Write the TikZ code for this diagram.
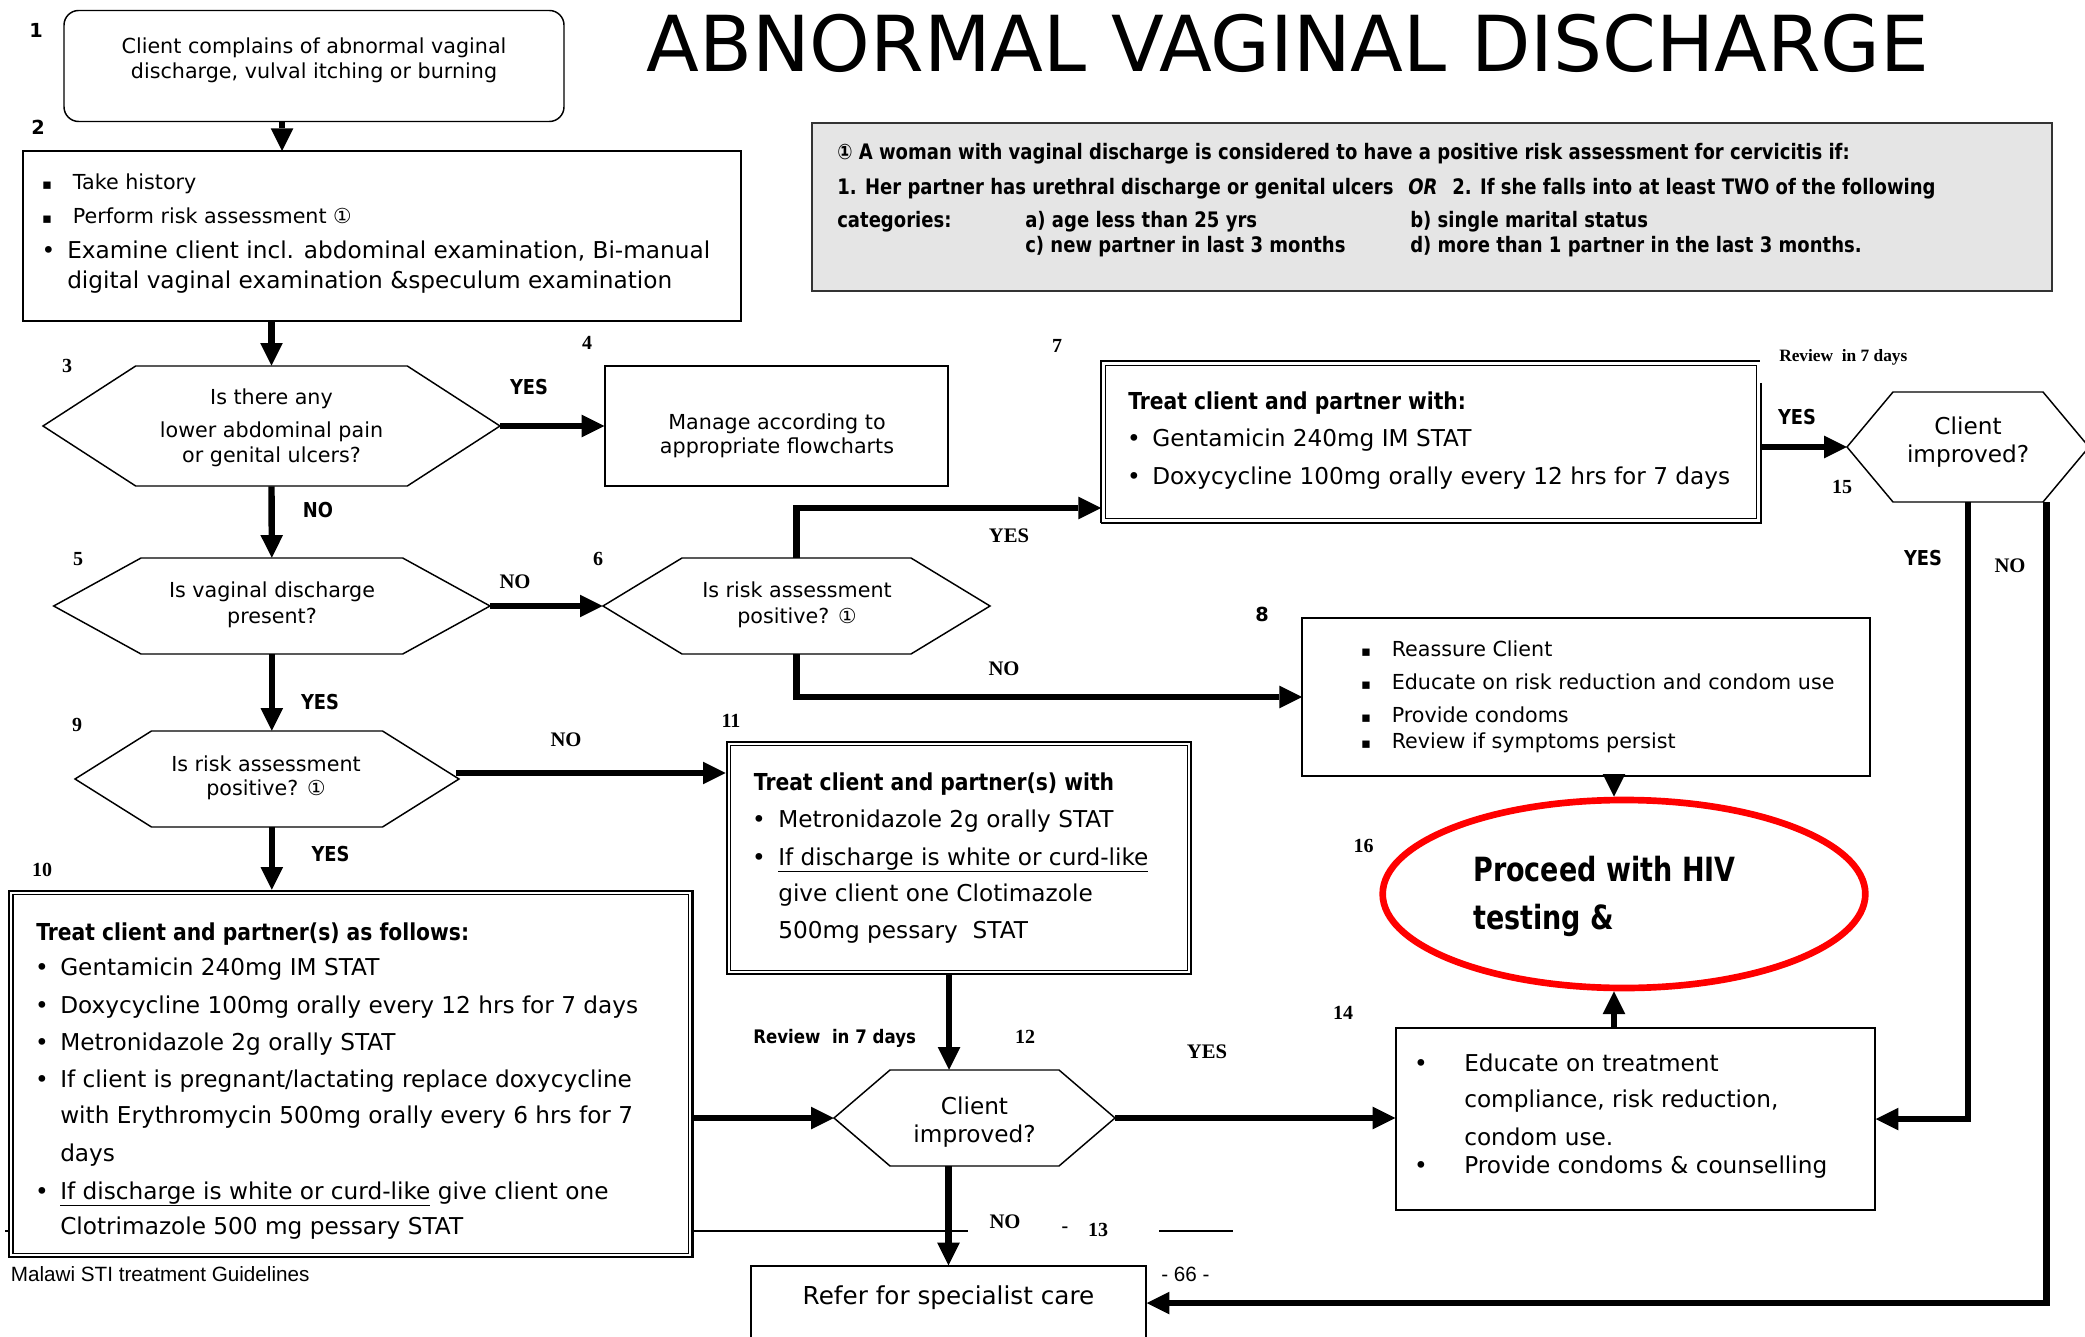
\documentclass[tikz,border=0pt]{standalone}
\usepackage{fontspec}
\usepackage{graphicx}
\setmainfont{DejaVu Sans}
\newfontfamily\tnr{Liberation Serif}
\newfontfamily\arialf{Liberation Sans}
\usetikzlibrary{arrows.meta,shapes.geometric}
\newcommand\hexdraw[6]{%
  \draw[hexline] (#2-#4,#3) -- (#2-#4+#6,#3-#5) -- (#2+#4-#6,#3-#5) -- (#2+#4,#3) -- (#2+#4-#6,#3+#5) -- (#2-#4+#6,#3+#5) -- cycle;
  \node[inner sep=0pt, minimum width={#4*1.5pt}, minimum height={#5*1.5pt}] (#1) at (#2,#3) {};}
\newcommand\boxat[6]{%
  \node[#6, inner sep=0pt, minimum width={(#4-#2)*0.75pt}, minimum height={(#5-#3)*0.75pt}] (#1) at ({(#2+#4)/2},{(#3+#5)/2}) {};}
\newcommand\dblin[1]{%
  \draw[line width=1.1pt] ([shift={(3.75pt,-3.75pt)}]#1.north west) rectangle ([shift={(-3.75pt,3.75pt)}]#1.south east);}
\newcommand\nb[2]{\scalebox{#1}[1]{#2}}
\newcommand\sqb{{\fontsize{11}{12}\selectfont ▪}}
\begin{document}
\begin{tikzpicture}[x=0.75pt,y=-0.75pt,
  arr/.style={line width=4.8pt,-{Triangle[length=17pt,width=17pt,line width=0pt]}},
  hexline/.style={line width=1.1pt, line join=miter},
  boxline/.style={draw, line width=1.1pt, fill=white},
  dblbox/.style={draw, line width=1.9pt, fill=white},
  txt/.style={inner sep=0pt, anchor=base west},
  ctxt/.style={inner sep=0pt, anchor=base},
  fs/.style={font=\fontsize{15.5}{18}\selectfont},
  fb/.style={font=\fontsize{17.4}{20}\selectfont},
  fbold/.style={font=\bfseries\fontsize{17.5}{20}\selectfont},
  fi/.style={font=\bfseries\fontsize{16}{18}\selectfont},
  numser/.style={inner sep=0pt, font=\tnr\bfseries\fontsize{15}{17}\selectfont},
  numsan/.style={inner sep=0pt, font=\bfseries\fontsize{14.5}{17}\selectfont},
  labsan/.style={inner sep=0pt, font=\bfseries\fontsize{15.4}{17}\selectfont},
  labser/.style={inner sep=0pt, font=\tnr\bfseries\fontsize{15.5}{17}\selectfont}]
\useasboundingbox (0,0) rectangle (2085,1337);
\fill[white] (0,0) rectangle (2085,1337);
\clip (0,0) rectangle (2085,1337);

% ---------- title ----------
\node[txt, font=\fontsize{57.9}{60}\selectfont] (title) at (646,71.7) {ABNORMAL VAGINAL DISCHARGE};

% ---------- info box ----------
\boxat{info}{812}{123}{2052}{291}{draw=black!80, fill=black!10, line width=1pt}
\node[txt, fi] (i1) at (837,160) {\nb{0.845}{① A woman with vaginal discharge is considered to have a positive risk assessment for cervicitis if:}};
\node[txt, fi] (i2a) at (837,195) {\nb{0.845}{1. Her partner has urethral discharge or genital ulcers}};
\node[txt, fi] (i2b) at (1408,195) {\nb{0.845}{\itshape OR}};
\node[txt, fi] (i2c) at (1452,195) {\nb{0.845}{2. If she falls into at least TWO of the following}};
\node[txt, fi] (i3a) at (837,228) {\nb{0.845}{categories:}};
\node[txt, fi] (i3b) at (1025,228) {\nb{0.845}{a) age less than 25 yrs}};
\node[txt, fi] (i3c) at (1410,228) {\nb{0.845}{b) single marital status}};
\node[txt, fi] (i4b) at (1025,253) {\nb{0.845}{c) new partner in last 3 months}};
\node[txt, fi] (i4c) at (1410,253) {\nb{0.845}{d) more than 1 partner in the last 3 months.}};

% ---------- boxes ----------
\boxat{b1}{64}{10.5}{564}{121.5}{boxline, rounded corners=11pt}
\boxat{b2}{23}{151}{741}{321}{boxline}
\boxat{b4}{605}{366}{948}{486}{boxline}
\boxat{b7}{1101}{361}{1761}{523}{fill=white}
\draw[line width=1.9pt] (1101,523) -- (1101,361) -- (1760,361);
\draw[line width=1.9pt] (1761,383) -- (1761,523) -- (1101,523);
\dblin{b7}
\boxat{b8}{1302}{618}{1870}{776}{boxline}
\boxat{b10}{9.2}{891}{692.4}{1257}{dblbox}
\dblin{b10}
\boxat{b11}{727}{742}{1191}{974}{dblbox}
\dblin{b11}
\boxat{b14}{1396}{1028}{1875}{1210}{boxline}
\boxat{ref}{751}{1266}{1146}{1340}{boxline}
\node[draw=red, line width=5pt, ellipse, inner sep=0pt, minimum width=362pt, minimum height=141pt] (e16) at (1624,894) {};

% ---------- hexagons ----------
\hexdraw{h3}{271.5}{426}{228.5}{60}{92.7}
\hexdraw{h5}{271.85}{606}{218.15}{48}{87.3}
\hexdraw{h6}{796.5}{606}{193.5}{48}{79}
\hexdraw{h9}{267}{779}{192}{48}{76.5}
\hexdraw{h12}{974.5}{1118}{140.5}{48}{56}
\hexdraw{h15}{1968}{447}{121}{55}{46}

% ---------- texts ----------
\node[ctxt, fs] (t1a) at (314,54) {Client complains of abnormal vaginal};
\node[ctxt, fs] (t1b) at (314,79) {discharge, vulval itching or burning};

\node[ctxt, fs] (s2a) at (47,190) {\sqb};
\node[txt, fs] (t2a) at (72.7,190) {Take history};
\node[ctxt, fs] (s2b) at (47,224) {\sqb};
\node[txt, fs] (t2b) at (72.7,224) {Perform risk assessment ①};
\node[ctxt, fb] (s2c) at (48.5,258.3) {•};
\node[txt, fb] (t2c) at (67,258.3) {Examine client incl. abdominal examination, Bi-manual};
\node[txt, fb] (t2d) at (67,288.3) {digital vaginal examination \&speculum examination};

\node[ctxt, fs] (t3a) at (271.5,405) {Is there any};
\node[ctxt, fs] (t3b) at (271.5,438) {lower abdominal pain};
\node[ctxt, fs] (t3c) at (271.5,463) {or genital ulcers?};

\node[ctxt, fs] (t4a) at (777,430) {Manage according to};
\node[ctxt, fs] (t4b) at (777,454) {appropriate flowcharts};

\node[ctxt, fs] (t5a) at (272,597) {Is vaginal discharge};
\node[ctxt, fs] (t5b) at (272,623) {present?};

\node[ctxt, fs] (t6a) at (797,597) {Is risk assessment};
\node[ctxt, fs] (t6b) at (797,623) {positive? ①};

\node[txt, fbold] (t7a) at (1128,410) {\nb{0.87}{Treat client and partner with:}};
\node[ctxt, fb] (s7a) at (1134,446.7) {•};
\node[txt, fb] (t7b) at (1152,446.7) {Gentamicin 240mg IM STAT};
\node[ctxt, fb] (s7b) at (1134,484) {•};
\node[txt, fb] (t7c) at (1152,484) {Doxycycline 100mg orally every 12 hrs for 7 days};

\node[ctxt, fs] (s8a) at (1366,656) {\sqb};
\node[txt, fs] (t8a) at (1391.5,656) {Reassure Client};
\node[ctxt, fs] (s8b) at (1366,689) {\sqb};
\node[txt, fs] (t8b) at (1391.5,689) {Educate on risk reduction and condom use};
\node[ctxt, fs] (s8c) at (1366,722) {\sqb};
\node[txt, fs] (t8c) at (1391.5,722) {Provide condoms};
\node[ctxt, fs] (s8d) at (1366,748) {\sqb};
\node[txt, fs] (t8d) at (1391.5,748) {Review if symptoms persist};

\node[ctxt, fs] (t9a) at (266,771) {Is risk assessment};
\node[ctxt, fs] (t9b) at (266,795) {positive? ①};

\node[txt, fbold] (t10) at (36,940) {\nb{0.87}{Treat client and partner(s) as follows:}};
\node[ctxt, fb] (s10a) at (42,975.5) {•};
\node[txt, fb] (t10a) at (60,975.5) {Gentamicin 240mg IM STAT};
\node[ctxt, fb] (s10b) at (42,1013) {•};
\node[txt, fb] (t10b) at (60,1013) {Doxycycline 100mg orally every 12 hrs for 7 days};
\node[ctxt, fb] (s10c) at (42,1050) {•};
\node[txt, fb] (t10c) at (60,1050) {Metronidazole 2g orally STAT};
\node[ctxt, fb] (s10d) at (42,1087) {•};
\node[txt, fb] (t10d) at (60,1087) {If client is pregnant/lactating replace doxycycline};
\node[txt, fb] (t10e) at (60,1123.5) {with Erythromycin 500mg orally every 6 hrs for 7};
\node[txt, fb] (t10f) at (60,1161) {days};
\node[ctxt, fb] (s10g) at (42,1199) {•};
\node[txt, fb] (t10g) at (60,1199) {\underline{If discharge is white or curd-like} give client one};
\node[txt, fb] (t10h) at (60,1234.5) {Clotrimazole 500 mg pessary STAT};

\node[txt, fbold] (t11) at (753.6,790) {\nb{0.87}{Treat client and partner(s) with}};
\node[ctxt, fb] (s11a) at (759,827.5) {•};
\node[txt, fb] (t11a) at (778,827.5) {Metronidazole 2g orally STAT};
\node[ctxt, fb] (s11b) at (759,865) {•};
\node[txt, fb] (t11b) at (778,865) {\underline{If discharge is white or curd-like}};
\node[txt, fb] (t11c) at (778,901.5) {give client one Clotimazole};
\node[txt, fb] (t11d) at (778,938) {500mg pessary~~STAT};

\node[ctxt, fb] (t12a) at (974.5,1114) {Client};
\node[ctxt, fb] (t12b) at (974.5,1142) {improved?};

\node[ctxt, fb] (s14a) at (1421,1071) {•};
\node[txt, fb] (t14a) at (1464,1071) {Educate on treatment};
\node[txt, fb] (t14b) at (1464,1107.5) {compliance, risk reduction,};
\node[txt, fb] (t14c) at (1464,1145) {condom use.};
\node[ctxt, fb] (s14d) at (1421,1173) {•};
\node[txt, fb] (t14d) at (1464,1173) {Provide condoms \& counselling};

\node[ctxt, fb] (t15a) at (1968,435) {Client};
\node[ctxt, fb] (t15b) at (1968,463) {improved?};

\node[txt, font=\bfseries\fontsize{25}{28}\selectfont] (t16a) at (1473,881) {\nb{0.81}{Proceed with HIV}};
\node[txt, font=\bfseries\fontsize{25}{28}\selectfont] (t16b) at (1473,929) {\nb{0.81}{testing \&}};

\node[ctxt, font=\fontsize{18.5}{21}\selectfont] (tref) at (948.5,1304) {Refer for specialist care};

% ---------- number labels ----------
\node[numsan] (n1) at (36,30) {1};
\node[numsan] (n2) at (38,127) {2};
\node[numser] (n3) at (67,366) {3};
\node[numser] (n4) at (587,343) {4};
\node[numser] (n5) at (78,559) {5};
\node[numser] (n6) at (598,559) {6};
\node[numser] (n7) at (1057,346) {7};
\node[numsan] (n8) at (1262,614) {8};
\node[numser] (n9) at (77,725) {9};
\node[numser] (n10) at (42,870) {10};
\node[numser] (n11) at (731,721) {11};
\node[numser] (n12) at (1025,1037) {12};
\node[numser] (n13d) at (1065,1230) {-};
\node[numser] (n13) at (1098,1230) {13};
\node[numser] (n14) at (1343,1013) {14};
\node[numser] (n15) at (1842,487) {15};
\node[numser] (n16) at (1363.5,846) {16};

% ---------- yes / no labels ----------
\node[labsan] (y3) at (529,387) {\nb{0.87}{YES}};
\node[labsan] (no3) at (318,510) {\nb{0.87}{NO}};
\node[labsan] (y5) at (320,702) {\nb{0.87}{YES}};
\node[labsan] (y9) at (330.5,854) {\nb{0.87}{YES}};
\node[labsan] (y7) at (1797,417) {\nb{0.87}{YES}};
\node[labsan] (y15) at (1923,558) {\nb{0.87}{YES}};
\node[labser] (no5) at (515,582) {NO};
\node[labser] (y6) at (1009,536) {YES};
\node[labser] (no6) at (1004,669) {NO};
\node[labser] (no9) at (566,740) {NO};
\node[labser] (no15) at (2010,566) {NO};
\node[labser] (y12) at (1207,1052) {YES};
\node[labser] (no12) at (1005,1222) {NO};
\node[txt, font=\bfseries\fontsize{14}{16}\selectfont] (rv12) at (753,1043) {\nb{0.89}{Review~~in 7 days}};
\node[txt, font=\tnr\bfseries\fontsize{13}{15}\selectfont] (rv15) at (1779,362) {Review~~in 7 days};

% ---------- footer ----------
\node[txt, font=\arialf\fontsize{15.5}{18}\selectfont] (foot) at (10.6,1281) {Malawi STI treatment Guidelines};
\node[txt, font=\arialf\fontsize{15.5}{18}\selectfont] (page) at (1161,1281) {- 66 -};
\draw[line width=1.1pt] (b10.east |- 0,1231) -- (968,1231);
\draw[line width=1.1pt] (1159,1231) -- (1233,1231);
\draw[line width=1.1pt] (5,1231) -- (9,1231);

% ---------- connectors ----------
\coordinate (b2in) at (282,151);
\coordinate (b7in) at (1101,508);
\coordinate (b8in) at (1302,697);
\coordinate (h9o) at (456,773);
\coordinate (h15r) at (2046.5,502);
\coordinate (e16t) at ([xshift=-7.5pt]e16.north);
\coordinate (e16b) at ([xshift=-7.5pt]e16.south);

\draw[arr] (b1.south -| b2in) -- (b2in);
\draw[arr] (b2.south -| h3.north) -- (h3.north);
\draw[arr] (h3.east) -- (b4.west);
\draw[arr] (h3.south) -- (h5.north);
\draw[arr] (h5.east) -- (h6.west);
\draw[arr] (h6.north) -- (h6.north |- b7in) -- (b7in);
\draw[arr] (h6.south) -- (h6.south |- b8in) -- (b8in);
\draw[arr] (h5.south) -- (h5.south |- h9.north);
\draw[arr] (h9o) -- (h9o -| b11.west);
\draw[arr] (h5.south |- h9.south) -- (h5.south |- b10.north);
\draw[arr] (b10.east |- h12.west) -- (h12.west);
\draw[arr] ([xshift=-7.5pt]b11.south) -- ([xshift=-7.5pt]b11.south |- h12.north);
\draw[arr] (h12.south -| ref.north) -- (ref.north);
\draw[arr] (h12.east) -- (h12.east -| b14.west);
\draw[arr] (b7.east |- h15.west) -- (h15.west);
\draw[arr] (h15.south) |- (b14.east);
\draw[arr] (h15r) |- (ref.east);
\draw[arr] (b8.south -| e16t) -- (e16t);
\draw[arr] (b14.north -| e16b) -- (e16b);
\end{tikzpicture}
\end{document}
